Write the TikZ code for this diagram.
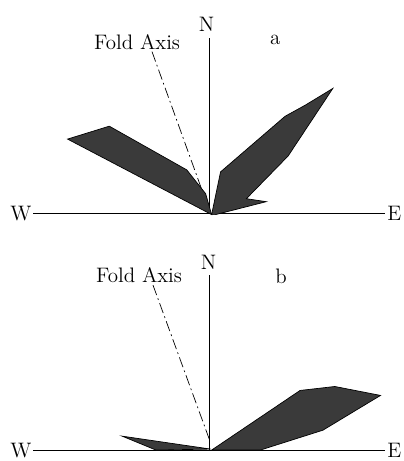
\documentclass[tikz,border=0pt]{standalone}
\usepackage{fontspec}
\usepackage{tikz}
\usetikzlibrary{positioning,calc}
\usepackage{xcolor}
\definecolor{petal}{HTML}{3A3A3A}
\tikzset{axisdash/.style={thin, dash pattern=on 6pt off 2pt on 1pt off 2pt}}

\begin{document}
\begin{tikzpicture}[font=\large]
  \useasboundingbox (-4.22,-4.98) rectangle (3.9,4.3);
  % panel a
  \coordinate (oa) at (0,0);
  \coordinate (ntopa) at (0,3.54);
  \node[inner sep=1pt, anchor=south] (na) at (-0.06,3.62) {N};
  \node[inner sep=1pt] (wa) at (-3.8,0) {W};
  \node[inner sep=1pt] (ea) at (3.72,0) {E};
  \node[inner sep=1pt] (folda) at (-1.46,3.46) {\addfontfeatures{LetterSpace=9}Fold Axis};
  \node[inner sep=1pt] (labela) at (1.32,3.5) {a};
  \coordinate (fatopa) at (-1.16,3.26);
  \coordinate (fabota) at (-0.02,0.1);
  \draw[thin] (wa) -- (ea);
  \draw[thin] (oa) -- (ntopa);
  \draw[axisdash] (fatopa) -- (fabota);
  \filldraw[fill=petal, draw=black, thin] (0.04,-0.02) -- (-2.86,1.5) -- (-2.02,1.76) -- (-0.46,0.88) -- (-0.08,0.4) -- cycle;
  \filldraw[fill=petal, draw=black, thin] (0.04,-0.02) -- (0.22,0.84) -- (1.52,1.96) -- (1.92,2.18) -- (2.48,2.52) -- (1.58,1.16) -- (0.74,0.3) -- (1.14,0.24) -- (0.12,-0.02) -- cycle;

  % panel b
  \begin{scope}[yshift=-4.76cm]
    \coordinate (ob) at (0,0);
    \coordinate (ntopb) at (0,3.52);
    \node[inner sep=1pt, anchor=south] (nb) at (-0.02,3.6) {N};
    \node[inner sep=1pt] (wb) at (-3.8,0) {W};
    \node[inner sep=1pt] (eb) at (3.72,0) {E};
    \node[inner sep=1pt] (foldb) at (-1.42,3.53) {\addfontfeatures{LetterSpace=9}Fold Axis};
    \node[inner sep=1pt] (labelb) at (1.44,3.5) {b};
    \coordinate (fatopb) at (-1.14,3.32);
    \coordinate (fabotb) at (0,0.2);
    \draw[thin] (wb) -- (eb);
    \draw[thin] (ob) -- (ntopb);
    \draw[axisdash] (fatopb) -- (fabotb);
    \filldraw[fill=petal, draw=black, thin] (0.02,0.02) -- (-1.76,0.28) -- (-1.08,0) -- cycle;
    \filldraw[fill=petal, draw=black, thin] (0.04,0) -- (1.82,1.2) -- (2.52,1.28) -- (3.44,1.1) -- (2.28,0.4) -- (1.02,0) -- cycle;
  \end{scope}
\end{tikzpicture}
\end{document}
